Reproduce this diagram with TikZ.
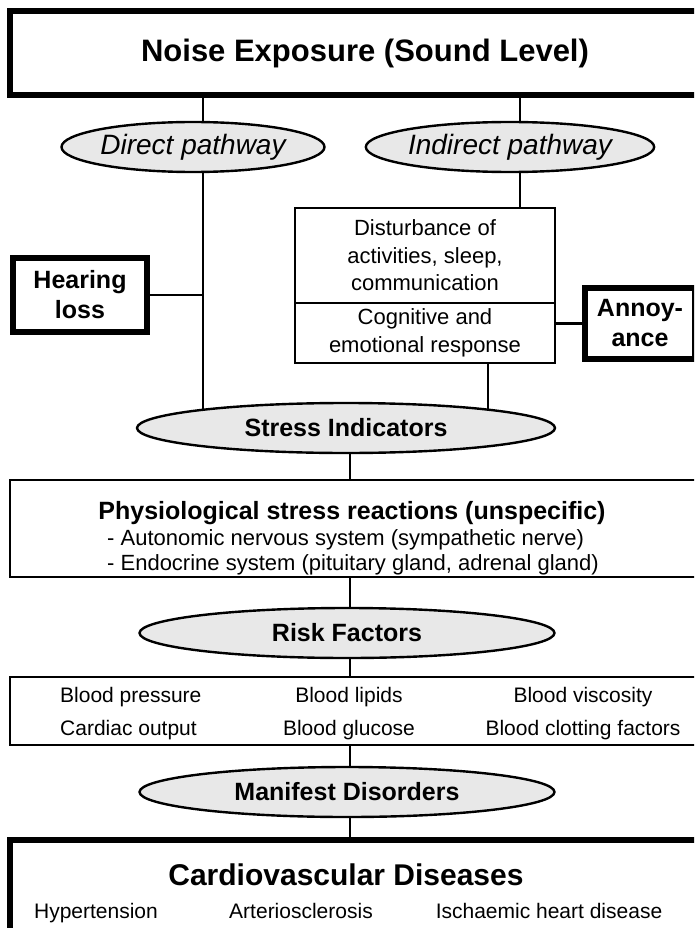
\documentclass[tikz,border=0pt]{standalone}
\usepackage{fontspec}
\setmainfont{Liberation Sans}
\usetikzlibrary{shapes.geometric, positioning, backgrounds}
\tikzset{
  base/.style = {
    draw, fill=white, inner sep=0pt, outer sep=0pt, align=center
  },
  heavybox/.style = {
    base, line width=6pt, font=\bfseries\fontsize{25}{30}\selectfont
  },
  plainbox/.style = {
    base, line width=2.6pt, font=\fontsize{22}{27.5}\selectfont
  },
  oval/.style = {
    ellipse, draw, line width=2.4pt, fill=black!9, inner sep=0pt,
    outer sep=0pt, font=\bfseries\fontsize{25}{30}\selectfont
  },
  wayoval/.style = {
    oval, font=\itshape\fontsize{28}{32}\selectfont
  },
  item/.style = {
    inner sep=0pt, anchor=base, font=\fontsize{21}{25}\selectfont
  },
  link/.style = {
    line width=2.6pt
  }
}

\begin{document}
\begin{tikzpicture}[x=1pt, y=-1pt]
  \useasboundingbox (0,0) rectangle (694,928);
  \clip (0,0) rectangle (694,928);

  % Exposure and the two pathways
  \node[heavybox, minimum width=710pt, minimum height=84pt,
        font=\bfseries\fontsize{31}{36}\selectfont] (noise) at (365,53) {Noise Exposure (Sound Level)};
  \node[wayoval, minimum width=263pt, minimum height=50pt] (direct) at (193,147) {Direct pathway};
  \node[wayoval, minimum width=260pt, minimum height=50pt] (indirect) at (510,147) {Indirect pathway};

  % Effects beside the pathways
  \node[heavybox, minimum width=134pt, minimum height=74pt] (hearing) at (80,295) {Hearing\\loss};
  \node[plainbox, minimum width=260pt, minimum height=95pt] (disturb) at (425,255.5) {Disturbance of\\activities, sleep,\\communication};
  \node[plainbox, minimum width=260pt, minimum height=60pt, below=0pt of disturb] (respond) {Cognitive and\\emotional response};
  \node[heavybox, minimum width=110pt, minimum height=71pt] (annoy) at (640,323.5) {Annoy-\\ance};

  % Stress reactions
  \node[oval, minimum width=418pt, minimum height=50pt] (stress) at (346,428) {Stress Indicators};
  \node[plainbox, minimum width=710pt, minimum height=97pt] (physio) at (365,528.5) {};
  \node[item, font=\bfseries\fontsize{25}{30}\selectfont] (physiotitle) at (352,519) {Physiological stress reactions (unspecific)};
  \node[item, anchor=base west, font=\fontsize{22}{26}\selectfont] (autonomic) at (107,545) {- Autonomic nervous system (sympathetic nerve)};
  \node[item, anchor=base west, font=\fontsize{22}{26}\selectfont] (endocrine) at (107,570) {- Endocrine system (pituitary gland, adrenal gland)};

  % Risk factors
  \node[oval, minimum width=415pt, minimum height=50pt] (risk) at (347,633) {Risk Factors};
  \node[plainbox, minimum width=710pt, minimum height=68pt] (riskbox) at (365,711) {};
  \node[item, anchor=base west] (pressure) at (60,702.5) {Blood pressure};
  \node[item] (lipids) at (349,702.5) {Blood lipids};
  \node[item] (viscosity) at (583,702.5) {Blood viscosity};
  \node[item, anchor=base west] (output) at (60,735.5) {Cardiac output};
  \node[item] (glucose) at (349,735.5) {Blood glucose};
  \node[item] (clotting) at (583,735.5) {Blood clotting factors};

  % Manifest disorders
  \node[oval, minimum width=415pt, minimum height=50pt] (manifest) at (347,792) {Manifest Disorders};
  \node[heavybox, minimum width=710pt, minimum height=91pt] (cvd) at (365,885.5) {};
  \node[item, font=\bfseries\fontsize{30}{36}\selectfont] (cvdtitle) at (346,885) {Cardiovascular Diseases};
  \node[item] (hypertension) at (96,918.5) {Hypertension};
  \node[item] (arterio) at (301,918.5) {Arteriosclerosis};
  \node[item] (ischaemic) at (549,918.5) {Ischaemic heart disease};

  % Connectors
  \begin{scope}[on background layer]
    \draw[link] (203,0 |- noise.center) -- (203,0 |- direct.center);
    \draw[link] (520,0 |- noise.center) -- (520,0 |- indirect.center);
    \draw[link] (203,0 |- direct.center) -- (203,0 |- stress.center);
    \draw[link] (hearing.east) -- (203,0 |- hearing.east);
    \draw[link] (520,0 |- indirect.center) -- (520,0 |- disturb.north);
    \draw[link] (annoy.west) -- (respond.east |- annoy.west);
    \draw[link] (488,0 |- respond.south) -- (488,0 |- stress.center);
    \draw[link] (350,0 |- stress.center) -- (350,0 |- physio.north);
    \draw[link] (350,0 |- physio.south) -- (350,0 |- risk.center);
    \draw[link] (350,0 |- risk.center) -- (350,0 |- riskbox.north);
    \draw[link] (350,0 |- riskbox.south) -- (350,0 |- manifest.center);
    \draw[link] (350,0 |- manifest.center) -- (350,0 |- cvd.north);
  \end{scope}

\end{tikzpicture}
\end{document}
